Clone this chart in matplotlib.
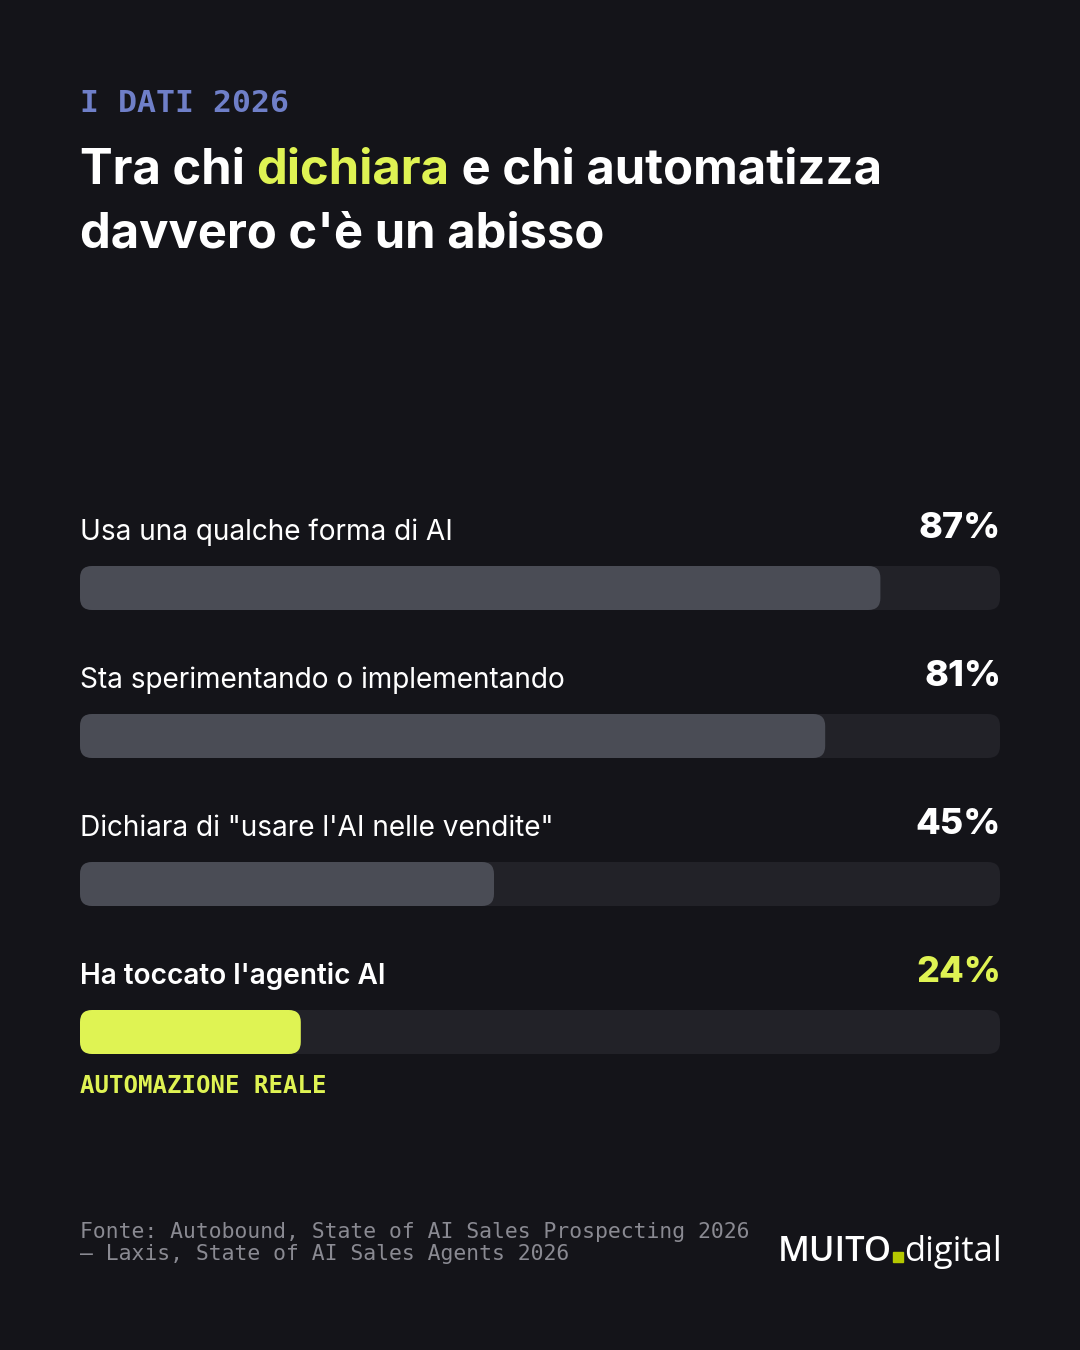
import matplotlib
matplotlib.use("Agg")
import matplotlib.pyplot as plt
from matplotlib.patches import FancyBboxPatch

labels = ["Usa una qualche forma di AI", "Sta sperimentando o implementando",
          "Dichiara di \"usare l'AI nelle vendite\"", "Ha toccato l'agentic AI"]
values = [87, 81, 45, 24]
highlight = [False, False, False, True]

BG = "#141419"; TRACK = "#222228"; BAR = "#4a4c55"; LIME = "#dff353"; BLUE = "#6f7fc8"
fig = plt.figure(figsize=(10.8, 13.5), dpi=100, facecolor=BG)
bg = fig.add_axes([0, 0, 1, 1]); bg.set_xlim(0, 1080); bg.set_ylim(1350, 0); bg.axis("off")
bg.set_facecolor(BG)

pt = 0.72
bg.text(80, 103, "I DATI 2026", color=BLUE, fontsize=31.5*pt, family="DejaVu Sans Mono",
        fontweight="bold", va="center")
fam = ["Inter", "DejaVu Sans"]
TS = 49*pt
t1 = bg.text(80, 170, "Tra chi ", color="white", fontsize=TS, family=fam, fontweight="bold", va="center")
fig.canvas.draw()
r = fig.canvas.get_renderer()
def after(t):
    bb = t.get_window_extent(r)
    return bg.transData.inverted().transform((bb.x1, 0))[0]
t2 = bg.text(after(t1), 170, "dichiara", color=LIME, fontsize=TS, family=fam, fontweight="bold", va="center")
bg.text(after(t2), 170, " e chi automatizza", color="white", fontsize=TS, family=fam, fontweight="bold", va="center")
bg.text(80, 234, "davvero c'è un abisso", color="white", fontsize=TS, family=fam, fontweight="bold", va="center")

ax = fig.add_axes([80/1080, 0, 920/1080, 1]); ax.set_xlim(0, 100); ax.set_ylim(1350, 0); ax.axis("off")
sx = 9.2
for i, (lab, v, h) in enumerate(zip(labels, values, highlight)):
    ytop = 566 + i*148
    ax.add_patch(FancyBboxPatch((0, ytop), 100, 44, boxstyle=f"round,pad=0,rounding_size={12/sx}",
                                mutation_aspect=sx, fc=TRACK, ec="none"))
    ax.add_patch(FancyBboxPatch((0, ytop), v, 44, boxstyle=f"round,pad=0,rounding_size={12/sx}",
                                mutation_aspect=sx, fc=LIME if h else BAR, ec="none"))
    bg.text(80, ytop-34, lab, color="white", fontsize=28*pt, family=fam,
            fontweight="semibold" if h else "normal", va="center")
    bg.text(1001, ytop-38, f"{v}%", color=LIME if h else "white", fontsize=36*pt, family=fam,
            fontweight="heavy", va="center", ha="right")

bg.text(80, 1086, "AUTOMAZIONE REALE", color=LIME, fontsize=24*pt, family="DejaVu Sans Mono",
        fontweight="bold", va="center")
bg.text(80, 1243, "Fonte: Autobound, State of AI Sales Prospecting 2026\n– Laxis, State of AI Sales Agents 2026",
        color="#8a8a92", fontsize=21.4*pt, family="DejaVu Sans Mono", va="center", linespacing=1.15)
m = bg.text(778, 1252, "MUITO", color="white", fontsize=34.5*pt, family=["Open Sans"], fontweight="semibold", va="center")
fig.canvas.draw()
x = after(m)
bg.add_patch(plt.Rectangle((x+1, 1252), 10, 10, color="#b5c800"))
bg.text(x+12, 1252, "digital", color="white", fontsize=34.5*pt, family=["Open Sans"], va="center")
fig.savefig("out.png", facecolor=BG)
